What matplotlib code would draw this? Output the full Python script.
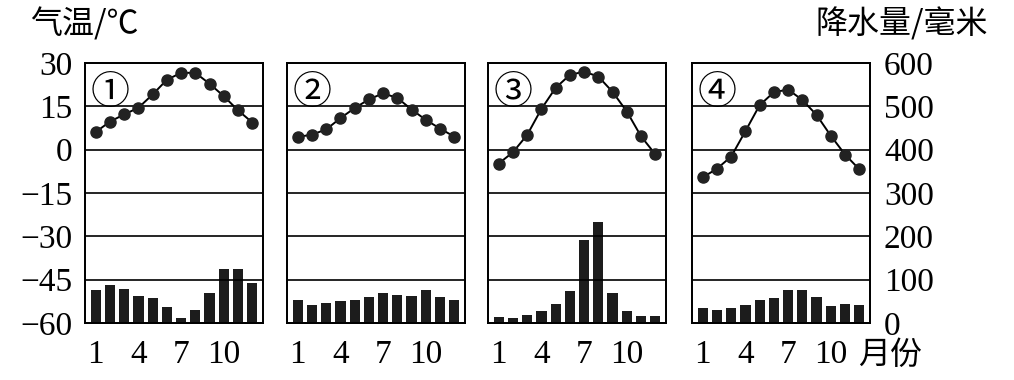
import matplotlib
matplotlib.use("Agg")
import matplotlib.pyplot as plt
import numpy as np

months = list(range(1, 13))
xtick_labels = ["1", "4", "7", "10"]
panel_labels = ["①", "②", "③", "④"]

temp_1 = [6.1, 9.7, 12.2, 14.5, 19.1, 24.2, 26.6, 26.6, 22.8, 18.5, 13.6, 9.4]
temp_2 = [4.4, 5.2, 7.0, 10.9, 14.4, 17.4, 19.5, 17.9, 13.9, 10.3, 7.3, 4.5]
temp_3 = [-4.8, -0.9, 5.1, 14.1, 21.4, 25.9, 27.0, 25.3, 20.0, 13.2, 4.6, -1.6]
temp_4 = [-9.6, -6.6, -2.4, 6.4, 15.4, 19.9, 20.8, 17.2, 12.0, 4.8, -1.7, -6.8]

prec_1 = [76, 87, 79, 63, 57, 37, 11, 30, 69, 124, 124, 93]
prec_2 = [54, 41, 46, 50, 54, 59, 69, 65, 63, 77, 61, 52]
prec_3 = [14, 12, 19, 28, 45, 75, 191, 234, 69, 28, 16, 17]
prec_4 = [34, 29, 34, 41, 52, 57, 76, 77, 59, 39, 45, 41]

temps = [temp_1, temp_2, temp_3, temp_4]
precs = [prec_1, prec_2, prec_3, prec_4]

temp_ticks = [30, 15, 0, -15, -30, -45, -60]
prec_ticks = [600, 500, 400, 300, 200, 100, 0]

W, H = 1014, 380
fig = plt.figure(figsize=(W / 100, H / 100), dpi=100)

num_font = dict(family="Liberation Serif", size=24)
cjk = ["Noto Sans CJK SC", "DejaVu Sans"]

lefts = [85, 287, 488, 692]
pw = 178
top_px, bot_px = 63, 323

for i in range(4):
    ax = fig.add_axes([lefts[i] / W, 1 - bot_px / H, pw / W, (bot_px - top_px) / H])
    ax2 = ax.twinx()
    ax2.bar(months, precs[i], width=0.72, color="#1c1c1c", zorder=2)
    ax2.set_ylim(0, 600)
    ax.set_ylim(-60, 30)
    ax.set_xlim(0.25, 12.75)
    ax2.set_xlim(0.25, 12.75)
    for g in [15, 0, -15, -30, -45]:
        ax.axhline(g, color="black", lw=1.2, zorder=1)
    ax.set_zorder(ax2.get_zorder() + 1)
    ax.patch.set_visible(False)
    ax.plot(months, temps[i], color="black", lw=1.4, marker="o", ms=8,
            mfc="#222222", mec="#222222", zorder=3)
    for a in (ax, ax2):
        for s in a.spines.values():
            s.set_linewidth(1.3)
            s.set_color("black")
    ax.set_xticks([1, 4, 7, 10])
    ax.set_xticklabels(xtick_labels, **num_font)
    ax.tick_params(axis="x", length=0, pad=12)
    ax2.tick_params(axis="x", length=0)
    if i == 0:
        ax.set_yticks(temp_ticks)
        ax.set_yticklabels([str(t).replace("-", "\u2212") for t in temp_ticks], **num_font)
        ax.tick_params(axis="y", length=0, pad=9)
    else:
        ax.set_yticks([])
    if i == 3:
        ax2.set_yticks(prec_ticks)
        ax2.set_yticklabels([str(p) for p in prec_ticks], **num_font)
        ax2.tick_params(axis="y", length=0, pad=10)
    else:
        ax2.set_yticks([])
    ax.text(0.14, 0.885, panel_labels[i], transform=ax.transAxes, ha="center", va="center",
            family=cjk, size=28, zorder=5)

fig.text(30 / W, 1 - 24 / H, "气温/℃", family=cjk, size=23, ha="left", va="center")
fig.text(988 / W, 1 - 24 / H, "降水量/毫米", family=cjk, size=23, ha="right", va="center")
fig.text(858 / W, 1 - 355 / H, "月份", family=cjk, size=23, ha="left", va="center")

fig.savefig("out.png", dpi=100)
